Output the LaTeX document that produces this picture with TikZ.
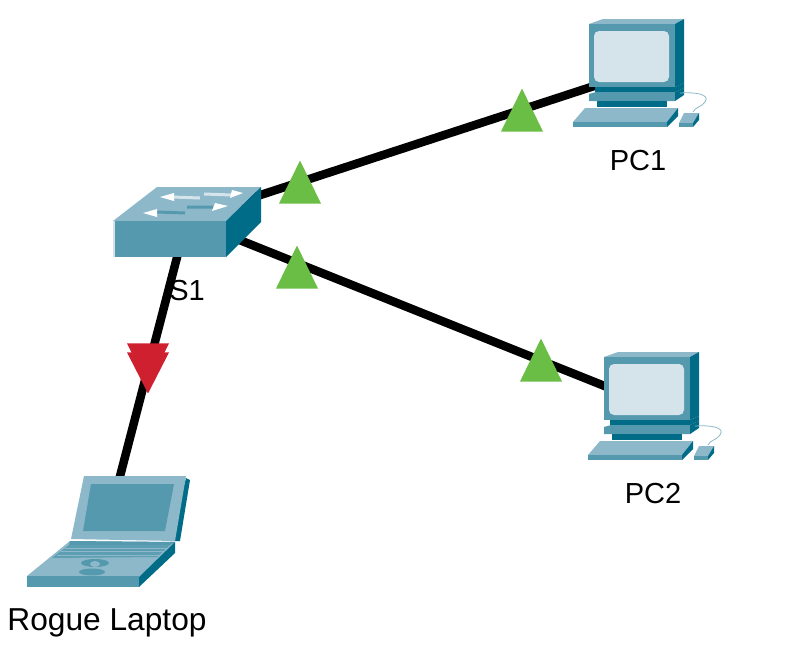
\documentclass[tikz,border=0pt]{standalone}
\usepackage{fontspec}
\setmainfont{Liberation Sans}
\usetikzlibrary{positioning,shapes.geometric}
\definecolor{devlight}{HTML}{8DB8C9}
\definecolor{devmid}{HTML}{5599AF}
\definecolor{devdark}{HTML}{006C87}
\definecolor{devscreen}{HTML}{D5E4EB}
\definecolor{linkup}{HTML}{6ABD45}
\definecolor{linkdown}{HTML}{CF2030}
\tikzset{
  cable/.style={draw=black,line width=8.5pt},
  lab/.style={font=\fontsize{29}{34}\selectfont,inner sep=0pt},
  biglab/.style={font=\fontsize{31.7}{36}\selectfont,inner sep=0pt},
  upmark/.style={isosceles triangle,isosceles triangle stretches,shape border rotate=90,fill=linkup,minimum width=42pt,minimum height=43pt,inner sep=0pt,anchor=apex},
  downmark/.style={isosceles triangle,isosceles triangle stretches,shape border rotate=-90,fill=linkdown,minimum width=42pt,minimum height=41pt,inner sep=0pt,anchor=apex},
  pcicon/.pic={
    % monitor
    \fill[devlight] (0,0) -- (14,-5) -- (95,-5) -- (86,0) -- cycle;
    \fill[devmid] (0,0) rectangle (86,63);
    \fill[devdark] (86,0) -- (95,-5) -- (95,59) -- (86,63) -- cycle;
    \fill[devscreen,rounded corners=5pt] (5,7) rectangle (80,58);
    % stand
    \fill[devdark] (6,63) rectangle (86,68);
    \fill[devdark] (86,63) -- (95,59) -- (95,64) -- (86,68) -- cycle;
    \fill[devmid] (0,70) -- (7,68) -- (86,68) -- (86,77) -- (0,77) -- cycle;
    \fill[devdark] (86,68) -- (95,64) -- (95,71) -- (86,77) -- cycle;
    \fill[devdark] (8,77) rectangle (78,83);
    % keyboard
    \fill[devlight] (-16,98) -- (-4,84) -- (89,84) -- (78,98) -- cycle;
    \fill[devmid] (-16,98) rectangle (78,103);
    \fill[devdark] (78,98) -- (89,84) -- (89,92) -- (78,103) -- cycle;
    % mouse
    \draw[devlight,line width=.8pt] (91,69) .. controls (105,68) and (122,70) .. (116,78) .. controls (113,83) and (106,83) .. (104,88);
    \fill[devlight] (90,99) -- (95,89) -- (110,89) -- (104,99) -- cycle;
    \fill[devmid] (90,99) rectangle (104,103);
    \fill[devdark] (104,103) -- (104,99) -- (110,89) -- (110,96) -- cycle;
  }
}
\begin{document}
\begin{tikzpicture}[x=1pt,y=-1pt]
\useasboundingbox (0,0) rectangle (785,656);
% hub points behind the icons
\coordinate (s1) at (187,219);
\coordinate (pc1) at (637,72);
\coordinate (pc2) at (652,405);
\coordinate (rogue) at (106,530);
\draw[cable] (s1) -- (pc1);
\draw[cable] (s1) -- (pc2);
\draw[cable] (s1) -- (rogue);
% switch
\fill[devlight] (113,221) -- (157,187) -- (261,187) -- (226,221) -- cycle;
\fill[devmid] (113,221) rectangle (226,257);
\fill[devscreen] (113,221) rectangle (115,257);
\fill[devdark] (226,221) -- (261,187) -- (261,222) -- (226,257) -- cycle;
\draw[devscreen,line width=3pt] (172,197) -- (200,198) (204,194) -- (232,195);
\draw[devmid,line width=3pt] (157,212) -- (185,213) (187,207) -- (213,207);
\fill[white] (160,197) -- (174,193) -- (174,201) -- cycle;
\fill[white] (243,193) -- (232,190) -- (230,198) -- cycle;
\fill[white] (143,213) -- (157,209) -- (157,217) -- cycle;
\fill[white] (228,206) -- (215,203) -- (212,211) -- cycle;
% PCs
\pic at (589,24) {pcicon};
\pic at (604,357) {pcicon};
% laptop
\fill[devdark] (186,478) -- (190,480) -- (180,541) -- (170,541) -- cycle;
\fill[devlight] (84,476) -- (186,476) -- (175,541) -- (71,539) -- cycle;
\fill[devmid] (91,484) -- (174,484) -- (165,531) -- (83,531) -- cycle;
\fill[devlight] (70,541) -- (175,542) -- (139,577) -- (27,576) -- cycle;
\fill[devmid] (70,541) -- (175,542) -- (170,545) -- (69,545) -- cycle;
\fill[devmid!85!devlight] (69,545) -- (170,545) -- (157,557) -- (52,558) -- cycle;
\foreach \kx in {0,1,2} \draw[devlight,line width=.7pt] (65-\kx*4,548+\kx*3.5) -- (167-\kx*3.5,548+\kx*3.5);
\fill[devmid] (27,576) rectangle (139,587);
\fill[devdark] (139,577) -- (175,542) -- (175,553) -- (139,587) -- cycle;
\fill[devmid] (95,563) ellipse (14pt and 4pt);
\fill[devmid] (92,572) ellipse (13pt and 3.5pt);
\fill[devlight] (95,564) ellipse (5pt and 3pt);
% link state marks
\node[upmark] (m1) at (300,160) {};
\node[upmark] (m2) at (522,88) {};
\node[upmark] (m3) at (297,245) {};
\node[upmark] (m4) at (541,338) {};
\node[downmark] (m5) at (148,385) {};
\node[downmark] (m6) at (148,394) {};
% labels
\node[lab] (s1lab) at (187,291) {S1};
\node[lab] (pc1lab) at (638,161) {PC1};
\node[lab] (pc2lab) at (653,494) {PC2};
\node[biglab] (roguelab) at (107,623) {Rogue Laptop};
\end{tikzpicture}
\end{document}
